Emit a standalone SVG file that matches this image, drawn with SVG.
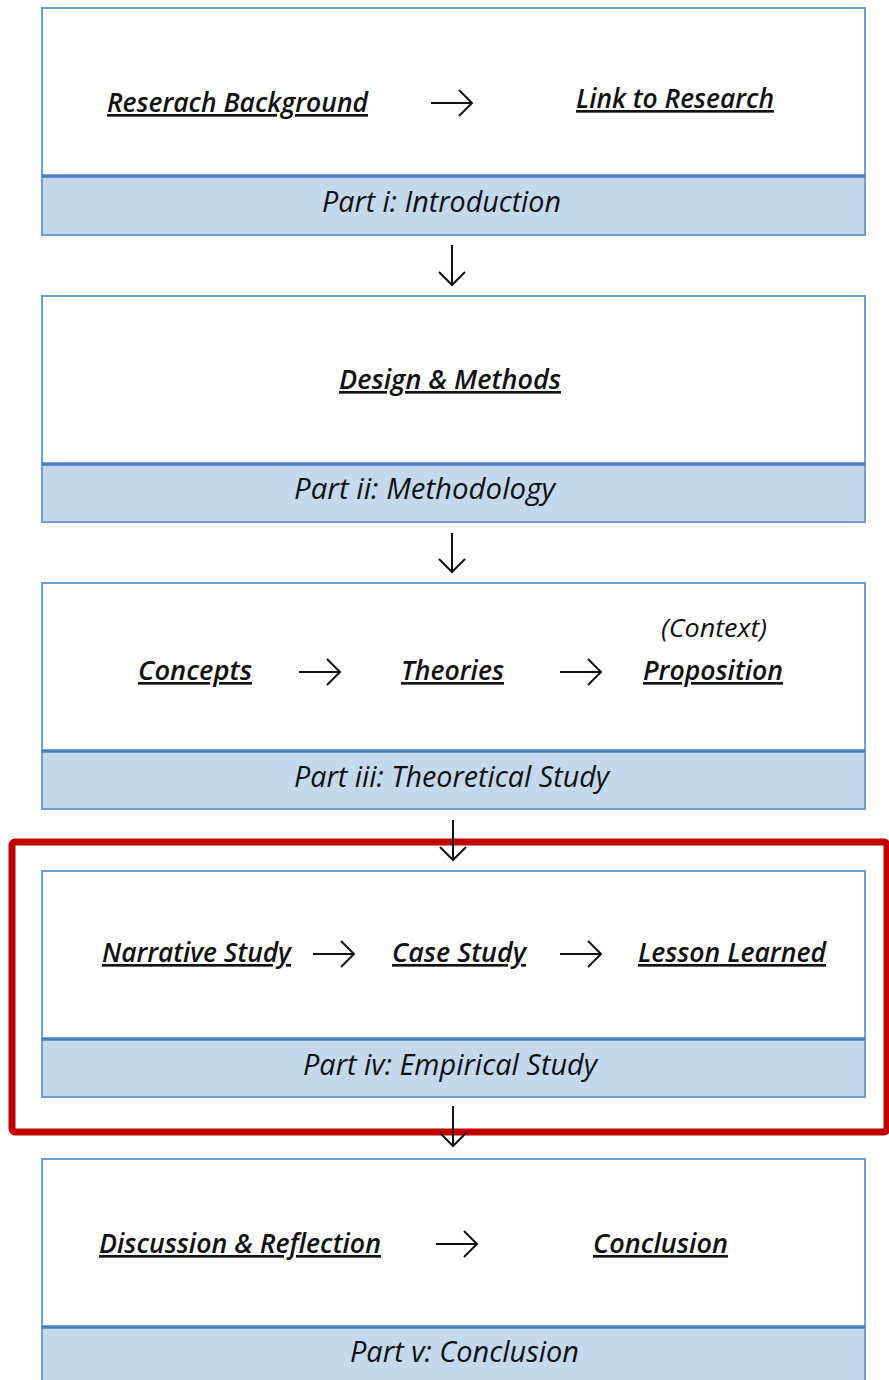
<svg xmlns="http://www.w3.org/2000/svg" width="889" height="1380" viewBox="0 0 889 1380">
<style>
.box{fill:#ffffff;stroke:#6f9fd2;stroke-width:2}
.band{fill:#c4d9ee;stroke:#6f9fd2;stroke-width:2}
.bandline{stroke:#4a80bd;stroke-width:3.5}
.t{font-family:"Open Sans","Noto Sans",sans-serif;font-style:italic;font-weight:600;font-size:26.5px;fill:#111;text-decoration:underline;text-anchor:start}
.c{font-family:"Open Sans","Noto Sans",sans-serif;font-style:italic;font-weight:400;font-size:25px;fill:#111}
.b{font-family:"Open Sans","Noto Sans",sans-serif;font-style:italic;font-weight:400;font-size:30px;fill:#111}
.arr{fill:none;stroke:#111;stroke-width:2;marker-end:url(#chev)}
</style>
<defs>
<marker id="chev" markerUnits="userSpaceOnUse" markerWidth="30" markerHeight="30" refX="0" refY="0" orient="auto" overflow="visible" viewBox="-15 -15 30 30">
<path d="M-13,-13 L0,0 L-13,13" fill="none" stroke="#111" stroke-width="2"/>
</marker>
</defs>
<rect width="889" height="1380" fill="#ffffff"/>

<g id="part1">
<rect class="box" x="42" y="8" width="823" height="227"/>
<rect class="band" x="42" y="176" width="823" height="59"/>
<line class="bandline" x1="42" y1="176" x2="865" y2="176"/>
<text class="t" x="107" y="112" textLength="261" lengthAdjust="spacingAndGlyphs">Reserach Background</text>
<text class="t" x="576" y="108" textLength="198" lengthAdjust="spacingAndGlyphs">Link to Research</text>
<text class="b" x="322" y="212" textLength="239" lengthAdjust="spacingAndGlyphs">Part i: Introduction</text>
</g>

<g id="part2">
<rect class="box" x="42" y="296" width="823" height="226"/>
<rect class="band" x="42" y="464" width="823" height="58"/>
<line class="bandline" x1="42" y1="464" x2="865" y2="464"/>
<text class="t" x="339" y="389" textLength="222" lengthAdjust="spacingAndGlyphs">Design &amp; Methods</text>
<text class="b" x="294" y="499" textLength="261" lengthAdjust="spacingAndGlyphs">Part ii: Methodology</text>
</g>

<g id="part3">
<rect class="box" x="42" y="583" width="823" height="226"/>
<rect class="band" x="42" y="751" width="823" height="58"/>
<line class="bandline" x1="42" y1="751" x2="865" y2="751"/>
<text class="t" x="138" y="680" textLength="114" lengthAdjust="spacingAndGlyphs">Concepts</text>
<text class="t" x="401" y="680" textLength="103" lengthAdjust="spacingAndGlyphs">Theories</text>
<text class="t" x="643" y="680" textLength="140" lengthAdjust="spacingAndGlyphs">Proposition</text>
<text class="c" x="661" y="637" textLength="106" lengthAdjust="spacingAndGlyphs">(Context)</text>
<text class="b" x="294" y="787" textLength="315" lengthAdjust="spacingAndGlyphs">Part iii: Theoretical Study</text>
</g>

<g id="part4">
<rect class="box" x="42" y="871" width="823" height="226"/>
<rect class="band" x="42" y="1039" width="823" height="58"/>
<line class="bandline" x1="42" y1="1039" x2="865" y2="1039"/>
<text class="t" x="102" y="962" textLength="189" lengthAdjust="spacingAndGlyphs">Narrative Study</text>
<text class="t" x="392" y="962" textLength="134" lengthAdjust="spacingAndGlyphs">Case Study</text>
<text class="t" x="638" y="962" textLength="188" lengthAdjust="spacingAndGlyphs">Lesson Learned</text>
<text class="b" x="303" y="1075" textLength="294" lengthAdjust="spacingAndGlyphs">Part iv: Empirical Study</text>
</g>

<g id="part5">
<rect class="box" x="42" y="1159" width="823" height="226"/>
<rect class="band" x="42" y="1327" width="823" height="58"/>
<line class="bandline" x1="42" y1="1327" x2="865" y2="1327"/>
<text class="t" x="99" y="1253" textLength="282" lengthAdjust="spacingAndGlyphs">Discussion &amp; Reflection</text>
<text class="t" x="593" y="1253" textLength="135" lengthAdjust="spacingAndGlyphs">Conclusion</text>
<text class="b" x="350" y="1362" textLength="229" lengthAdjust="spacingAndGlyphs">Part v: Conclusion</text>
</g>

<g id="highlight">
<rect x="12" y="842" width="875" height="290" rx="3" fill="none" stroke="#c00000" stroke-width="7"/>
</g>

<g id="connectors">
<path class="arr" d="M431,103 H472"/>
<path class="arr" d="M452,245 V285"/>
<path class="arr" d="M452,533 V572"/>
<path class="arr" d="M299,672 H340"/>
<path class="arr" d="M560,672 H601"/>
<path class="arr" d="M453,820 V860"/>
<path class="arr" d="M313,954 H354"/>
<path class="arr" d="M560,954 H601"/>
<path class="arr" d="M453,1106 V1146"/>
<path class="arr" d="M436,1244 H477"/>
</g>
</svg>
